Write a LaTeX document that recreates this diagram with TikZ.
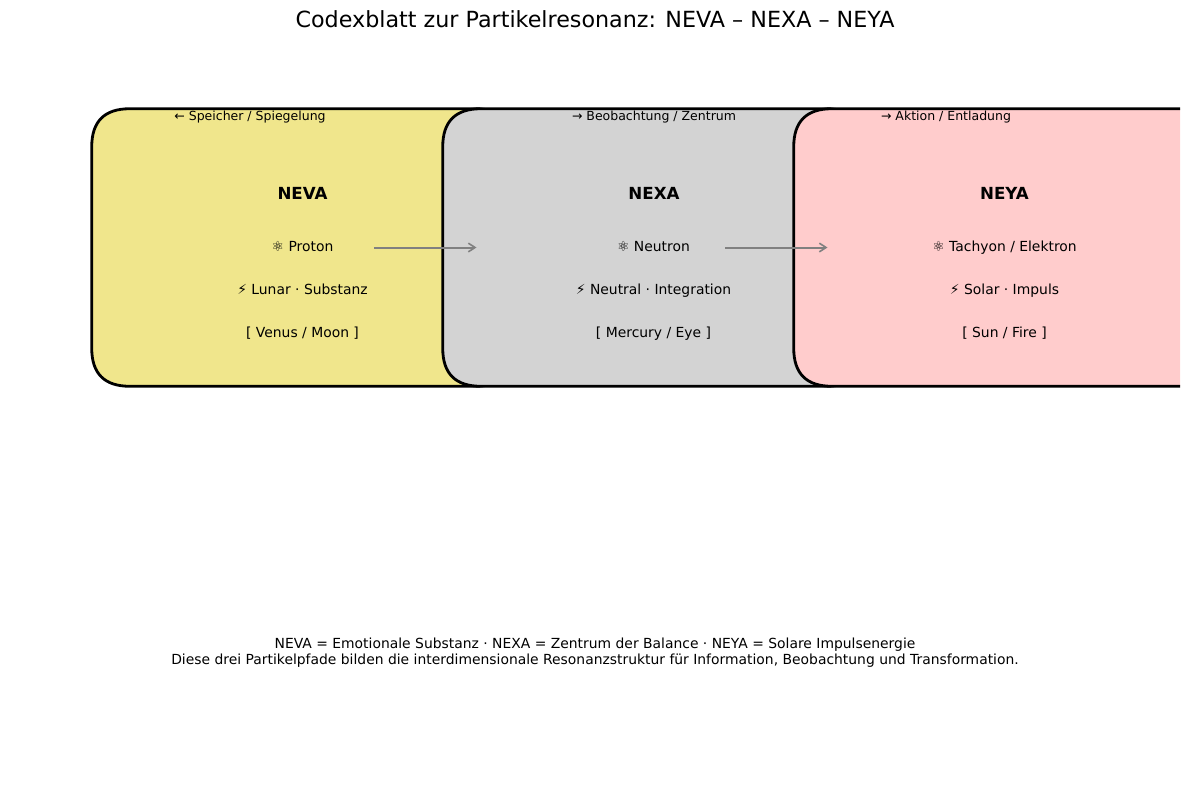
\documentclass[tikz,border=0pt]{standalone}
\usepackage{fontspec}
\setmainfont{DejaVu Sans}
\usetikzlibrary{arrows.meta,calc}
\definecolor{nevacol}{HTML}{F0E68C}
\definecolor{nexacol}{HTML}{D3D3D3}
\definecolor{neyacol}{HTML}{FFCCCC}
\tikzset{
  cardbox/.style={minimum width=315.75pt,minimum height=207.75pt,inner sep=0pt},
  cardline/.style={draw=black,line width=2.1pt},
  txt/.style={anchor=base,inner sep=0pt,font=\fontsize{10.42pt}{12.5pt}\selectfont},
  headtxt/.style={anchor=base,inner sep=0pt,font=\fontsize{12.5pt}{15pt}\selectfont\bfseries},
  smalltxt/.style={anchor=base,inner sep=0pt,font=\fontsize{9.38pt}{11pt}\selectfont},
  titletxt/.style={anchor=base,inner sep=0pt,font=\fontsize{16.67pt}{20pt}\selectfont},
  foottxt/.style={align=center,inner sep=0pt,font=\fontsize{10.42pt}{12pt}\selectfont},
  link/.style={draw=gray,line width=1.5pt,-{Straight Barb[length=5pt,width=6.5pt,line width=1.2pt]}}
}
% rounded card with quadratic corners
\newcommand{\cardshape}[3]{%
  \node[cardbox] (#1) at (#3,247.5) {};
  \draw[cardline,fill=#2]
    ($(#1.north west)+(38,0)$) -- ($(#1.north east)+(-38,0)$)
    .. controls ($(#1.north east)+(-12.7,0)$) and ($(#1.north east)+(0,12.7)$) .. ($(#1.north east)+(0,38)$)
    -- ($(#1.south east)+(0,-38)$)
    .. controls ($(#1.south east)+(0,-12.7)$) and ($(#1.south east)+(-12.7,0)$) .. ($(#1.south east)+(-38,0)$)
    -- ($(#1.south west)+(38,0)$)
    .. controls ($(#1.south west)+(12.7,0)$) and ($(#1.south west)+(0,-12.7)$) .. ($(#1.south west)+(0,-38)$)
    -- ($(#1.north west)+(0,38)$)
    .. controls ($(#1.north west)+(0,12.7)$) and ($(#1.north west)+(12.7,0)$) .. ($(#1.north west)+(38,0)$)
    -- cycle;
}
\begin{document}
\begin{tikzpicture}[x=0.75pt,y=-0.75pt]
\useasboundingbox (0,0) rectangle (1189,790);
\begin{scope}
\clip (0,0) rectangle (1180,790);
\cardshape{neva}{nevacol}{302.5}
\cardshape{nexa}{nexacol}{653.5}
\cardshape{neya}{neyacol}{1004.5}
\end{scope}
\node[titletxt] (title) at (595,27) {Codexblatt zur Partikelresonanz: NEVA – NEXA – NEYA};
\node[smalltxt] (la) at (250,120) {← Speicher / Spiegelung};
\node[smalltxt] (lb) at (654,120) {→ Beobachtung / Zentrum};
\node[smalltxt] (lc) at (946,120) {→ Aktion / Entladung};
\node[headtxt] (ha) at (302.5,199) {NEVA};
\node[headtxt] (hb) at (654,199) {NEXA};
\node[headtxt] (hc) at (1004.5,199) {NEYA};
\node[txt] (a1) at (302.5,251) {⚛ Proton};
\node[txt] (a2) at (302.5,294) {⚡ Lunar · Substanz};
\node[txt] (a3) at (302.5,337) {[ Venus / Moon ]};
\node[txt] (b1) at (653.5,251) {⚛ Neutron};
\node[txt] (b2) at (653.5,294) {⚡ Neutral · Integration};
\node[txt] (b3) at (653.5,337) {[ Mercury / Eye ]};
\node[txt] (c1) at (1004.5,251) {⚛ Tachyon / Elektron};
\node[txt] (c2) at (1004.5,294) {⚡ Solar · Impuls};
\node[txt] (c3) at (1004.5,337) {[ Sun / Fire ]};
\coordinate (s1) at (374,247.5);
\coordinate (e1) at (476.5,247.5);
\coordinate (s2) at (725,247.5);
\coordinate (e2) at (827.5,247.5);
\draw[link] (s1) -- (e1);
\draw[link] (s2) -- (e2);
\node[foottxt] (foot) at (595,653) {NEVA = Emotionale Substanz · NEXA = Zentrum der Balance · NEYA = Solare Impulsenergie\\Diese drei Partikelpfade bilden die interdimensionale Resonanzstruktur für Information, Beobachtung und Transformation.};
\end{tikzpicture}
\end{document}
